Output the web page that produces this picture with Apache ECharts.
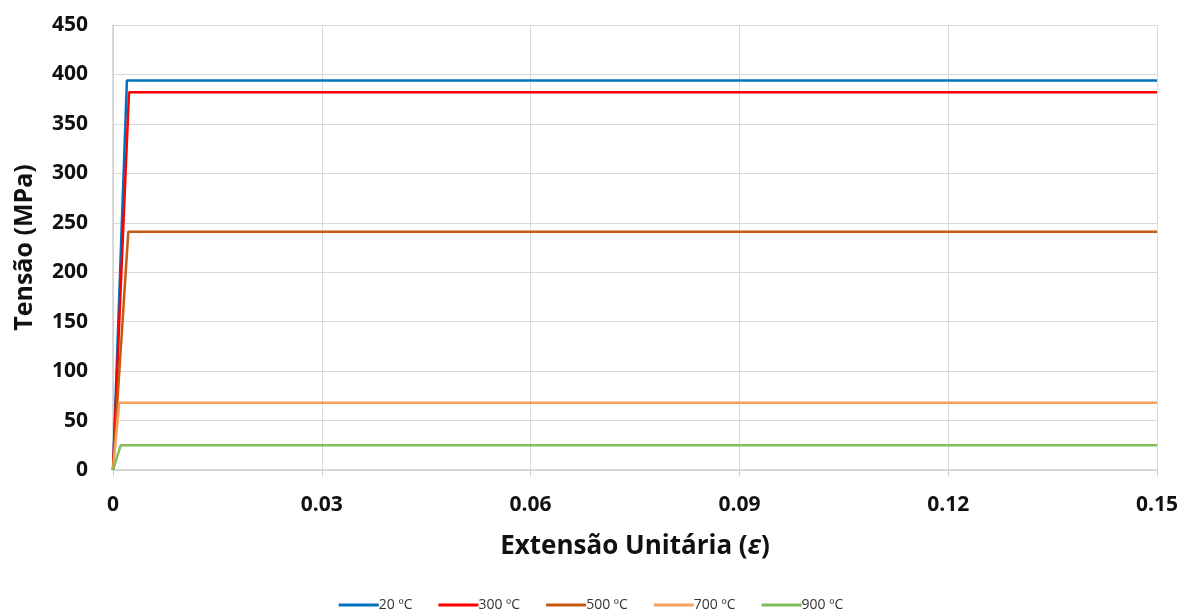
<!DOCTYPE html>
<html>
<head>
<meta charset="utf-8">
<script src="https://cdn.jsdelivr.net/npm/echarts@6/dist/echarts.min.js"></script>
<style>
  html, body { margin: 0; padding: 0; background: #fff; }
  #chart { width: 1182px; height: 610px; }
</style>
</head>
<body>
<div id="chart"></div>
<script>
// séries: nome, extensão de cedência, tensão de cedência (MPa)
const seriesNames = ['20 ºC', '300 ºC', '500 ºC', '700 ºC', '900 ºC']
const yieldStrain = [0.002, 0.0023, 0.0022, 0.0009, 0.0011]
const yieldStress = [394, 382, 241, 68, 25]
const maxStrain = 0.15
const colors = ['#0070C0', '#FF0000', '#C55A11', '#F4A15F', '#82BD5C']

const chart = echarts.init(document.getElementById('chart'))

const series = seriesNames.map((name, i) => {
  return {
    name: name,
    type: 'line',
    showSymbol: false,
    symbol: 'none',
    lineStyle: { width: 2.5, color: colors[i] },
    itemStyle: { color: colors[i] },
    data: [[0, 0], [yieldStrain[i], yieldStress[i]], [maxStrain, yieldStress[i]]]
  }
})

const axisFont = { fontFamily: 'Open Sans', fontWeight: 'bold', color: '#111' }

chart.setOption({
  animation: false,
  grid: { left: 113, right: 25, top: 25, bottom: 140, outerBoundsMode: 'none', containLabel: false },
  legend: {
    top: 593,
    left: 'center',
    itemWidth: 40,
    itemHeight: 3,
    itemGap: 26,
    icon: 'rect',
    textStyle: { fontFamily: 'Open Sans', fontSize: 14, color: '#333', padding: [0, 0, 0, -5] },
    data: seriesNames
  },
  xAxis: {
    type: 'value',
    min: 0,
    max: 0.15,
    interval: 0.03,
    name: 'Extensão Unitária ({e|ε})',
    nameLocation: 'middle',
    nameGap: 64,
    nameTextStyle: {
      ...axisFont,
      fontSize: 26,
      rich: {
        e: { fontFamily: 'Open Sans', fontStyle: 'italic', fontWeight: 'bold', fontSize: 26, color: '#111' }
      }
    },
    axisLine: { lineStyle: { color: '#d0d0d0', width: 1.5 } },
    axisTick: { show: true, length: 6, lineStyle: { color: '#d0d0d0' } },
    splitLine: { show: true, lineStyle: { color: '#d9d9d9', width: 1 } },
    axisLabel: {
      ...axisFont,
      fontSize: 21,
      margin: 25,
      formatter: v => (v === 0 ? '0' : v.toFixed(2))
    }
  },
  yAxis: {
    type: 'value',
    min: 0,
    max: 450,
    interval: 50,
    name: 'Tensão (MPa)',
    nameLocation: 'middle',
    nameGap: 76,
    nameTextStyle: { ...axisFont, fontSize: 25 },
    axisLine: { show: true, lineStyle: { color: '#d0d0d0', width: 1.5 } },
    axisTick: { show: false },
    splitLine: { show: true, lineStyle: { color: '#d9d9d9', width: 1 } },
    axisLabel: { ...axisFont, fontSize: 21, margin: 25 }
  },
  series: series
})
</script>
</body>
</html>
